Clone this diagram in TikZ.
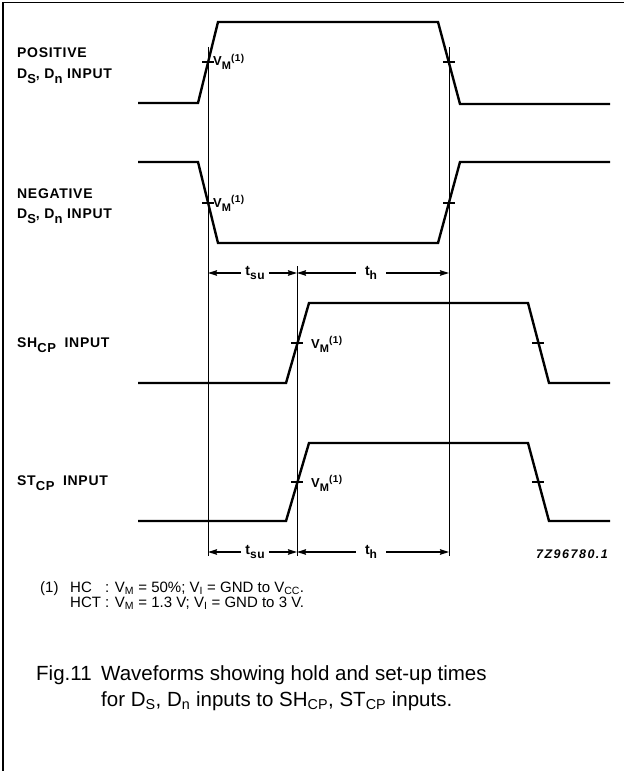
\documentclass[tikz,border=0pt]{standalone}
\usepackage{fontspec}
\usepackage{graphicx}
\setmainfont{Liberation Sans}
\newfontfamily\lblfont[LetterSpace=5]{Liberation Sans}
\newfontfamily\codefont[LetterSpace=12]{Liberation Sans}
\usetikzlibrary{arrows.meta}
\newcommand\lsub[1]{\raisebox{-5bp}{\fontsize{13bp}{13bp}\selectfont #1}}
\newcommand\vmlabel{V\raisebox{-4bp}{\fontsize{11bp}{11bp}\selectfont M}\raisebox{4.5bp}{\fontsize{10bp}{10bp}\selectfont (1)}}
\begin{document}
\begin{tikzpicture}[x=1bp,y=-1bp,
  wave/.style={line width=2.4bp,line join=miter},
  vref/.style={line width=1bp},
  tickm/.style={line width=1.3bp},
  dimarrow/.style={line width=1.4bp,-{Stealth[length=9bp,width=5.5bp,inset=1bp]}},
  sig/.style={anchor=base west,inner sep=0pt,font=\lblfont\bfseries\fontsize{14bp}{16bp}\selectfont},
  vm/.style={anchor=base west,inner sep=0pt,font=\lblfont\bfseries\fontsize{13bp}{15bp}\selectfont},
  dimtxt/.style={inner ysep=0pt,font=\lblfont\bfseries\fontsize{14bp}{15bp}\selectfont},
  note/.style={anchor=base west,inner sep=0pt,font=\fontsize{15bp}{17bp}\selectfont},
  captext/.style={anchor=base west,inner sep=0pt,font=\fontsize{20.5bp}{24bp}\selectfont},
  codetxt/.style={anchor=base,inner sep=0pt,font=\codefont\bfseries\itshape\fontsize{12.5bp}{14bp}\selectfont}
]
\useasboundingbox (0,0) rectangle (624,771);
\fill[white] (0,0) rectangle (624,771);
% frame
\coordinate (fbl) at (3,771);
\coordinate (ftl) at (3,2.5);
\coordinate (ftr) at (624,2.5);
\draw[line width=1.5bp] (fbl) -- (ftl) -- (ftr);

% reference lines
\coordinate (L1a) at (208,47);  \coordinate (L1b) at (208,556);
\coordinate (L2a) at (297,266); \coordinate (L2b) at (297,556);
\coordinate (L3a) at (449,47);  \coordinate (L3b) at (449,556);
\draw[vref] (L1a) -- (L1b);
\draw[vref] (L2a) -- (L2b);
\draw[vref] (L3a) -- (L3b);

% waveforms
\draw[wave] (138,103) -- (198,103) -- (218,22) -- (438,22) -- (460,104) -- (610,104);
\draw[wave] (138,162) -- (198,162) -- (218,243) -- (438,243) -- (460,162) -- (610,162);
\draw[wave] (138,383) -- (286,383) -- (309,303) -- (528,303) -- (549,383) -- (610,383);
\draw[wave] (138,521) -- (286,521) -- (309,443) -- (528,443) -- (549,521) -- (610,521);

% VM tick marks
\foreach \n/\x/\y in {t1/208/62, t2/449/62, t3/208/203, t4/449/203, t5/297/343, t6/538/343, t7/297/482, t8/538/482}{
  \coordinate (\n) at (\x,\y);
  \draw[tickm] ([xshift=-6bp]\n) -- ([xshift=6bp]\n);
}

% VM labels
\node[vm] (vm1) at (213,66) {\vmlabel};
\node[vm] (vm2) at (213,207) {\vmlabel};
\node[vm] (vm3) at (311,348) {\vmlabel};
\node[vm] (vm4) at (311,487) {\vmlabel};

% signal labels
\node[sig] (pos1) at (17,58) {POSITIVE};
\node[sig] (pos2) at (17,78) {D\lsub{S}, D\lsub{n} INPUT};
\node[sig] (neg1) at (17,198) {NEGATIVE};
\node[sig] (neg2) at (17,218) {D\lsub{S}, D\lsub{n} INPUT};
\node[sig] (sh) at (17,347) {SH\lsub{CP}\hspace{4bp} INPUT};
\node[sig] (st) at (17,485) {ST\lsub{CP}\hspace{4bp} INPUT};

% dimension arrows (top)
\coordinate (dtop) at (0,273);
\node[dimtxt,inner xsep=4bp] (tsu1) at (255,273) {t\raisebox{-4bp}{\fontsize{12bp}{12bp}\selectfont su}};
\draw[dimarrow] (tsu1.west |- dtop) -- (L1a |- dtop);
\draw[dimarrow] (tsu1.east |- dtop) -- (L2a |- dtop);
\node[dimtxt,inner xsep=9bp] (th1) at (371,273) {t\raisebox{-4bp}{\fontsize{12bp}{12bp}\selectfont h}};
\draw[dimarrow] (th1.west |- dtop) -- (L2a |- dtop);
\draw[dimarrow] (th1.east |- dtop) -- (L3a |- dtop);

% dimension arrows (bottom)
\coordinate (dbot) at (0,552);
\node[dimtxt,inner xsep=4bp] (tsu2) at (255,552) {t\raisebox{-4bp}{\fontsize{12bp}{12bp}\selectfont su}};
\draw[dimarrow] (tsu2.west |- dbot) -- (L1b |- dbot);
\draw[dimarrow] (tsu2.east |- dbot) -- (L2b |- dbot);
\node[dimtxt,inner xsep=9bp] (th2) at (371,552) {t\raisebox{-4bp}{\fontsize{12bp}{12bp}\selectfont h}};
\draw[dimarrow] (th2.west |- dbot) -- (L2b |- dbot);
\draw[dimarrow] (th2.east |- dbot) -- (L3b |- dbot);

% code
\node[codetxt] (code) at (572,558) {7Z96780.1};

% footnote
\node[note] (fn0) at (40,592) {(1)};
\node[note] (fn1a) at (70,592) {HC};
\node[note] (fn1b) at (105,592) {: V\textsubscript{M} = 50\%; V\textsubscript{I} = GND to V\textsubscript{CC}.};
\node[note] (fn2a) at (70,607) {HCT};
\node[note] (fn2b) at (105,607) {: V\textsubscript{M} = 1.3 V; V\textsubscript{I} = GND to 3 V.};

% caption
\node[captext] (fig) at (36,680) {Fig.11};
\node[captext] (cap1) at (101,680) {Waveforms showing hold and set-up times};
\node[captext] (cap2) at (101,706) {for D\textsubscript{S}, D\textsubscript{n} inputs to SH\textsubscript{CP}, ST\textsubscript{CP} inputs.};
\end{tikzpicture}
\end{document}
